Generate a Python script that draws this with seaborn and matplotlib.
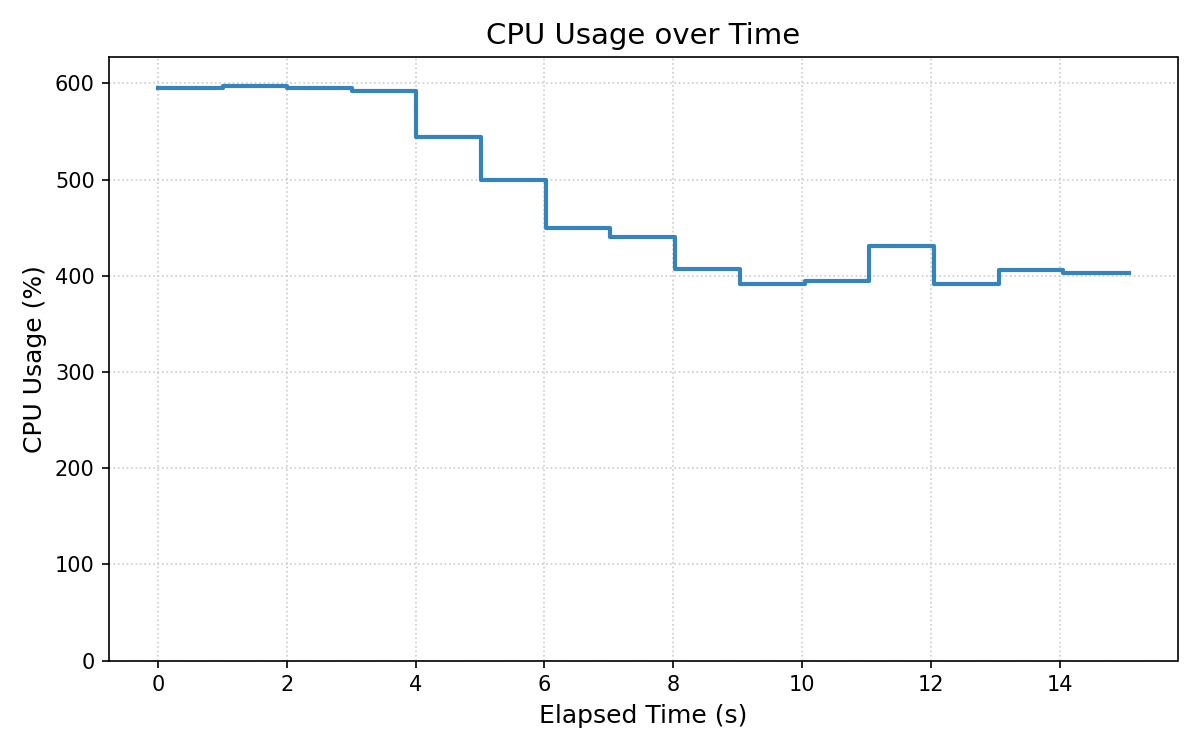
import pandas as pd
import matplotlib
matplotlib.use("Agg")
import matplotlib.pyplot as plt
import seaborn as sns

# elapsed time of each sample (s) and CPU usage (%)
elapsed = [0, 1.01, 2.01, 3.01, 4.01, 5.02, 6.02, 7.02, 8.02, 9.04,
           10.04, 11.04, 12.05, 13.05, 14.04, 15.07]
cpu = [595, 597.5, 595, 592, 544, 500, 450, 440, 407.5, 391.5,
       395, 431, 391.5, 406, 403, 403]


def plot_cpu():
    df = pd.DataFrame({"elapsed": elapsed, "cpu": cpu})

    fig, ax = plt.subplots(figsize=(8, 5), dpi=150)
    sns.lineplot(data=df, x="elapsed", y="cpu", ax=ax, drawstyle="steps-post",
                 color="#1f77b4", alpha=0.9, linewidth=2)

    # headroom of 5% above the peak
    ax.set_ylim(0, max(cpu) * 1.05)
    ax.set_title("CPU Usage over Time", fontsize=14)
    ax.set_xlabel("Elapsed Time (s)", fontsize=12)
    ax.set_ylabel("CPU Usage (%)", fontsize=12)
    ax.grid(True, linestyle=":", color="#cccccc", linewidth=0.8)

    plt.tight_layout()
    plt.savefig("out.png")


if __name__ == "__main__":
    plot_cpu()
